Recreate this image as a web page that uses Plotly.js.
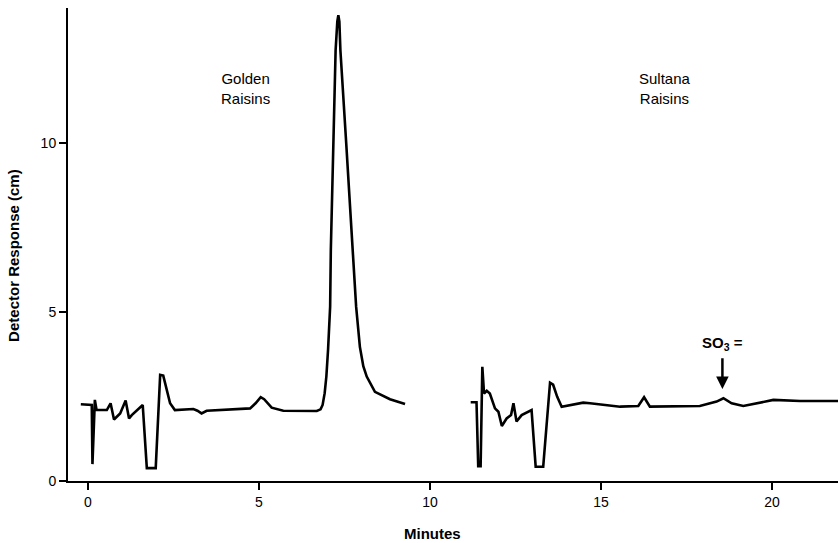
<!DOCTYPE html>
<html><head><meta charset="utf-8">
<script src="https://cdn.plot.ly/plotly-3.0.1.min.js"></script>
<style>body{margin:0;background:#fff}#c{width:838px;height:543px}</style>
</head><body><div id="c"></div>
<script>
const goldenX = [-0.21,0.11,0.13,0.20,0.25,0.55,0.66,0.76,0.94,1.10,1.20,1.28,1.60,1.72,1.98,2.11,2.20,2.30,2.40,2.54,3.08,3.20,3.32,3.47,4.00,4.74,4.90,5.05,5.15,5.37,5.71,6.69,6.80,6.86,6.92,6.97,7.02,7.08,7.10,7.17,7.24,7.29,7.32,7.35,7.38,7.55,7.74,7.84,7.95,8.05,8.15,8.39,8.83,9.27];
const goldenY = [2.27,2.25,0.50,2.40,2.10,2.10,2.30,1.82,2.00,2.38,1.85,1.95,2.25,0.38,0.38,3.14,3.12,2.69,2.30,2.10,2.13,2.08,2.00,2.08,2.10,2.15,2.30,2.48,2.42,2.17,2.08,2.07,2.12,2.25,2.60,3.10,3.90,5.16,6.83,10.0,12.75,13.6,13.79,13.6,12.75,10.0,6.93,5.16,3.97,3.40,3.09,2.64,2.42,2.28];
const sultanaX = [11.19,11.36,11.41,11.48,11.53,11.58,11.66,11.75,11.90,12.00,12.10,12.24,12.37,12.44,12.53,12.68,12.97,13.09,13.31,13.51,13.60,13.72,13.85,14.09,14.48,14.68,15.56,16.09,16.26,16.43,17.89,18.38,18.58,18.82,19.16,20.04,20.82,21.93];
const sultanaY = [2.33,2.33,0.44,0.44,3.38,2.59,2.67,2.59,2.15,2.05,1.63,1.85,1.95,2.30,1.76,1.95,2.10,0.42,0.42,2.91,2.85,2.49,2.20,2.25,2.32,2.30,2.20,2.22,2.48,2.20,2.22,2.35,2.45,2.30,2.22,2.40,2.37,2.37];
const xTicks = [0,5,10,15,20];
const yTicks = [0,5,10];

const lineStyle = {color:'#000', width:2.6};
const data = [
  {x:goldenX, y:goldenY, mode:'lines', line:lineStyle, hoverinfo:'skip'},
  {x:sultanaX, y:sultanaY, mode:'lines', line:lineStyle, hoverinfo:'skip'}
];
const fam = 'Liberation Sans, Arial, sans-serif';
const layout = {
  width:838, height:543,
  margin:{l:68, r:0, t:8, b:62},
  paper_bgcolor:'#fff', plot_bgcolor:'#fff',
  showlegend:false,
  font:{family:fam, size:13, color:'#000'},
  xaxis:{range:[-0.585,21.93], tickvals:xTicks, ticktext:xTicks.map(String),
    showgrid:false, zeroline:false, showline:true, linecolor:'#000', linewidth:2,
    ticks:'outside', ticklen:7, tickwidth:1.5, tickcolor:'#000',
    tickfont:{family:fam, size:14, color:'#000'}},
  yaxis:{range:[0,14.0], tickvals:yTicks, ticktext:yTicks.map(String),
    showgrid:false, zeroline:false, showline:true, linecolor:'#000', linewidth:2,
    ticks:'outside', ticklen:7, tickwidth:1.5, tickcolor:'#000',
    tickfont:{family:fam, size:14, color:'#000'}},
  annotations:[
    {xref:'paper', yref:'paper', x:0.474, y:-0.110, xanchor:'center', yanchor:'middle', text:'<b>Minutes</b>', showarrow:false, font:{family:fam, size:15, color:'#000'}},
    {xref:'paper', yref:'paper', x:-0.0701, y:0.476, xanchor:'center', yanchor:'middle', text:'<b>Detector Response (cm)</b>', textangle:-90, showarrow:false, font:{family:fam, size:15, color:'#000'}},
    {x:4.6, y:11.63, xref:'x', yref:'y', text:'Golden<br>Raisins', showarrow:false, font:{family:fam, size:15, color:'#000'}},
    {x:16.87, y:11.63, xref:'x', yref:'y', text:'Sultana<br>Raisins', showarrow:false, font:{family:fam, size:15, color:'#000'}},
    {x:18.55, y:2.72, xref:'x', yref:'y', ax:18.55, ay:4.08, axref:'x', ayref:'y', text:'<b>SO<sub>3</sub> =</b>', showarrow:true, arrowhead:2, arrowsize:1, arrowwidth:2.5, arrowcolor:'#000', startstandoff:4, font:{family:fam, size:15, color:'#000'}}
  ]
};
Plotly.newPlot('c', data, layout, {displayModeBar:false, staticPlot:true});
</script></body></html>
